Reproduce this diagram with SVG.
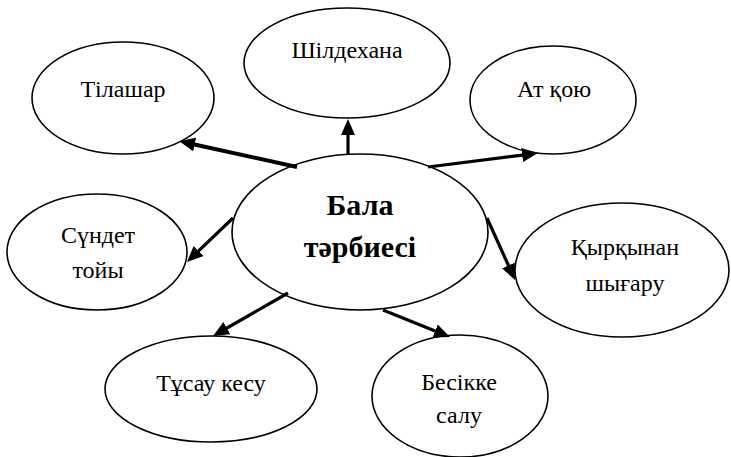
<svg xmlns="http://www.w3.org/2000/svg" width="731" height="457" viewBox="0 0 731 457">
<defs>
<marker id="ah" markerUnits="userSpaceOnUse" markerWidth="17" markerHeight="15" refX="6" refY="7" orient="auto">
<path d="M0,0 L16,7 L0,14 z" fill="#000"/>
</marker>
</defs>
<rect width="731" height="457" fill="#fff"/>
<g id="nodes" fill="#fff" stroke="#000" stroke-width="1.6">
<g id="n-shildekhana"><ellipse cx="347" cy="63" rx="103" ry="55"/><text x="347" y="58" font-family="Liberation Serif" font-size="24" fill="#000" stroke="none" text-anchor="middle">Шілдехана</text></g>
<g id="n-tilashar"><ellipse cx="123" cy="98" rx="91" ry="56"/><text x="123" y="97" font-family="Liberation Serif" font-size="24" fill="#000" stroke="none" text-anchor="middle">Тілашар</text></g>
<g id="n-atkoyu"><ellipse cx="553" cy="100" rx="83" ry="54"/><text x="554" y="97" font-family="Liberation Serif" font-size="24" fill="#000" stroke="none" text-anchor="middle">Ат қою</text></g>
<g id="n-sundet"><ellipse cx="97" cy="252" rx="90" ry="58"/><text x="98" y="243" font-family="Liberation Serif" font-size="24" fill="#000" stroke="none" text-anchor="middle">Сүндет</text><text x="98" y="278" font-family="Liberation Serif" font-size="24" fill="#000" stroke="none" text-anchor="middle">тойы</text></g>
<g id="n-center"><ellipse cx="360" cy="232" rx="128" ry="78"/><text x="360" y="215" font-family="Liberation Serif" font-size="30" font-weight="bold" fill="#000" stroke="none" text-anchor="middle">Бала</text><text x="360" y="257" font-family="Liberation Serif" font-size="30" font-weight="bold" fill="#000" stroke="none" text-anchor="middle">тәрбиесі</text></g>
<g id="n-kyrkynan"><ellipse cx="622" cy="270" rx="107" ry="67"/><text x="625" y="255" font-family="Liberation Serif" font-size="24" fill="#000" stroke="none" text-anchor="middle">Қырқынан</text><text x="625" y="291" font-family="Liberation Serif" font-size="24" fill="#000" stroke="none" text-anchor="middle">шығару</text></g>
<g id="n-tusau"><ellipse cx="211" cy="389" rx="106" ry="53"/><text x="211" y="391" font-family="Liberation Serif" font-size="24" fill="#000" stroke="none" text-anchor="middle">Тұсау кесу</text></g>
<g id="n-besik"><ellipse cx="460" cy="396" rx="88" ry="61"/><text x="459" y="390" font-family="Liberation Serif" font-size="24" fill="#000" stroke="none" text-anchor="middle">Бесікке</text><text x="459" y="423" font-family="Liberation Serif" font-size="24" fill="#000" stroke="none" text-anchor="middle">салу</text></g>
</g>
<g id="connectors" stroke="#000" stroke-width="3.2" marker-end="url(#ah)">
<line x1="297" y1="167" x2="188.8" y2="143.2" stroke-width="4"/>
<line x1="348" y1="154" x2="348" y2="129"/>
<line x1="428" y1="167" x2="528.1" y2="154.3"/>
<line x1="233" y1="218" x2="194.2" y2="255.1"/>
<line x1="487" y1="218" x2="510.9" y2="270.9"/>
<line x1="288" y1="293" x2="221.7" y2="331"/>
<line x1="383" y1="310" x2="440.7" y2="333.3"/>
</g>
</svg>
